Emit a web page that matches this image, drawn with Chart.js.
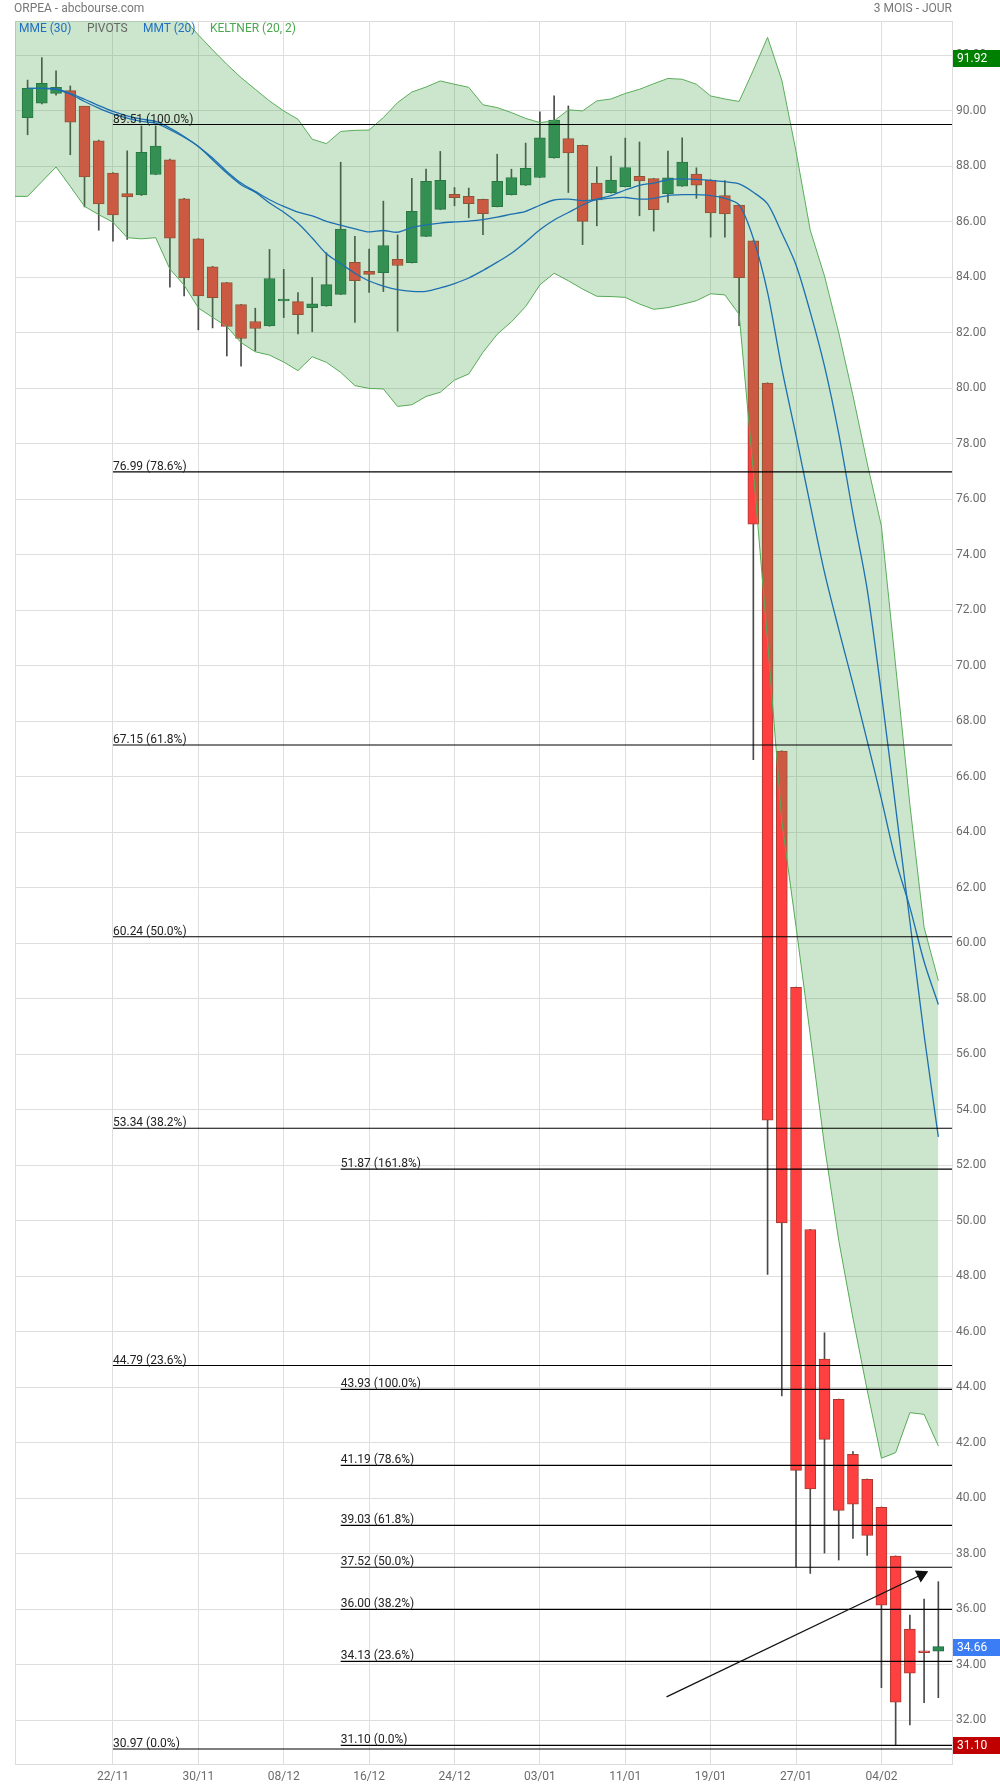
<!DOCTYPE html>
<html>
<head>
<meta charset="utf-8">
<title>ORPEA - abcbourse.com</title>
<script src="https://cdn.jsdelivr.net/npm/chart.js@4.4.1/dist/chart.umd.min.js"></script>
<style>
  body { margin: 0; background: #fff; }
  #wrap { position: relative; width: 1000px; height: 1787px; font-family: Roboto, sans-serif; font-size: 12px; }
  #wrap canvas { position: absolute; left: 0; top: 0; }
  .t { position: absolute; white-space: nowrap; line-height: 14px; }
</style>
</head>
<body>
<div id="wrap">
  <canvas id="myChart" width="1000" height="1787"></canvas>
  <div class="t" style="left:14px;top:1px;color:#777">ORPEA - abcbourse.com</div>
  <div class="t" style="right:48px;top:1px;color:#777">3 MOIS - JOUR</div>
  <div class="t" style="left:19px;top:21px;color:#2270c0">MME (30)</div>
  <div class="t" style="left:87px;top:21px;color:#666">PIVOTS</div>
  <div class="t" style="left:143px;top:21px;color:#2270c0">MMT (20)</div>
  <div class="t" style="left:210px;top:21px;color:#4aa84e">KELTNER (20, 2)</div>
</div>
<script>
/* global Chart */

// x = trading day index (0 = 12/11, 64 = 10/02)
const tickIdx = [6, 12, 18, 24, 30, 36, 42, 48, 54, 60];
const tickLabels = ['22/11', '30/11', '08/12', '16/12', '24/12', '03/01', '11/01', '19/01', '27/01', '04/02'];

const open = [89.76, 90.28, 90.63, 90.73, 90.17, 88.92, 87.76, 87.02, 86.97, 87.71,
  88.24, 86.83, 85.39, 84.38, 83.81, 83.02, 82.41, 82.25, 83.15, 83.13,
  82.91, 82.97, 83.39, 84.54, 84.22, 84.17, 84.65, 84.53, 85.48, 86.45,
  86.99, 86.92, 86.81, 86.55, 86.98, 87.32, 87.60, 88.31, 89.00, 88.76,
  87.40, 87.05, 87.27, 87.64, 87.56, 87.02, 87.29, 87.72, 87.51, 86.95,
  86.61, 85.32, 80.19, 66.93, 58.42, 49.69, 45.02, 43.57, 41.59, 40.69,
  39.68, 37.92, 35.29, 34.50, 34.50];
const high = [91.11, 91.92, 91.44, 90.90, 90.17, 88.95, 87.78, 88.56, 89.46, 89.46,
  88.26, 86.85, 85.40, 84.40, 83.82, 83.03, 82.89, 85.01, 84.29, 83.45,
  84.00, 84.89, 88.15, 85.48, 85.02, 86.75, 85.53, 87.57, 87.90, 88.54,
  87.24, 87.22, 86.82, 88.44, 87.90, 88.84, 89.97, 90.54, 90.18, 88.77,
  87.98, 88.37, 89.02, 88.88, 87.57, 88.55, 89.03, 87.95, 87.52, 87.49,
  86.62, 85.33, 80.20, 66.94, 58.43, 49.70, 45.97, 43.58, 41.69, 40.70,
  39.69, 37.93, 35.80, 36.37, 37.00];
const low = [89.14, 90.25, 90.57, 88.42, 86.54, 85.70, 85.31, 85.37, 86.95, 87.70,
  83.65, 83.33, 82.11, 82.18, 81.17, 80.80, 81.35, 82.24, 82.55, 81.96,
  82.04, 82.96, 83.38, 82.38, 83.46, 83.49, 82.06, 84.52, 85.47, 86.44,
  86.58, 86.15, 85.54, 86.54, 86.97, 87.31, 87.59, 88.30, 87.06, 85.18,
  85.86, 87.04, 87.26, 86.22, 85.67, 86.70, 87.28, 86.85, 85.45, 85.45,
  82.26, 66.62, 48.07, 43.69, 37.54, 37.30, 38.03, 37.78, 38.56, 37.95,
  33.18, 31.10, 31.84, 32.64, 32.82];
const close = [90.81, 90.99, 90.85, 89.59, 87.62, 86.65, 86.25, 86.90, 88.51, 88.73,
  85.41, 83.98, 83.33, 83.27, 82.23, 81.80, 82.16, 83.96, 83.16, 82.66,
  83.05, 83.74, 85.74, 83.88, 84.11, 85.15, 84.43, 86.38, 87.46, 87.50,
  86.87, 86.66, 86.30, 87.46, 87.60, 87.93, 89.03, 89.67, 88.49, 86.02,
  86.79, 87.51, 87.96, 87.48, 86.44, 87.59, 88.16, 87.32, 86.32, 86.29,
  83.99, 75.11, 53.63, 49.93, 41.01, 40.34, 42.13, 39.57, 39.79, 38.67,
  36.15, 32.66, 33.70, 34.44, 34.66];

// Keltner (20, 2) bands, first value is the day before 12/11
const keltnerUp = [94.6, 94.6, 94.5, 94.5, 94.4, 94.3, 94.2, 94.1, 94.0, 93.9,
  93.8, 93.7, 93.3, 92.74, 92.2, 91.68, 91.20, 90.78, 90.36, 90.0,
  89.70, 88.98, 88.82, 89.26, 89.30, 89.31, 89.76, 90.30, 90.68, 90.86,
  91.08, 90.96, 90.85, 90.22, 90.12, 89.94, 89.73, 89.58, 89.64, 90.04,
  90.0, 90.36, 90.43, 90.63, 90.78, 90.98, 91.17, 91.14, 90.96, 90.54,
  90.43, 90.34, 91.47, 92.65, 91.11, 88.54, 85.7, 84.05, 82.01, 79.74,
  77.31, 75.04, 70.0, 65.0, 60.58, 58.66];
const keltnerLow = [86.92, 86.92, 87.45, 87.98, 87.28, 86.56, 86.26, 85.99, 85.43, 85.39,
  85.43, 84.30, 83.72, 82.90, 82.56, 82.23, 81.65, 81.32, 81.20, 80.95,
  80.64, 81.14, 80.94, 80.58, 80.10, 80.0, 79.98, 79.35, 79.41, 79.71,
  79.86, 80.30, 80.52, 81.30, 81.95, 82.40, 82.95, 83.73, 84.15, 83.88,
  83.58, 83.32, 83.31, 83.28, 83.04, 82.85, 82.91, 83.03, 83.16, 83.41,
  83.37, 82.67, 77.0, 70.9, 64.4, 60.6, 56.7, 52.7, 49.3, 46.5,
  43.9, 41.45, 41.65, 43.09, 43.03, 41.89];

const mme30 = [90.81, 90.81, 90.79, 90.63, 90.42, 90.19, 89.98, 89.82, 89.70, 89.62,
  89.38, 89.08, 88.72, 88.30, 87.82, 87.40, 87.10, 86.80, 86.56, 86.35,
  86.22, 86.02, 85.88, 85.75, 85.64, 85.69, 85.63, 85.80, 85.89, 85.96,
  86.00, 86.03, 86.08, 86.17, 86.28, 86.38, 86.60, 86.79, 86.82, 86.77,
  86.80, 86.86, 86.88, 86.82, 86.85, 86.95, 86.98, 86.98, 86.95, 86.85,
  86.61, 85.40, 83.46, 80.72, 78.30, 75.80, 73.37, 71.32, 69.35, 67.30,
  65.20, 63.00, 61.30, 59.34, 57.80];
const mmt20 = [90.81, 90.81, 90.78, 90.60, 90.34, 90.10, 89.89, 89.74, 89.62, 89.56,
  89.32, 89.05, 88.72, 88.24, 87.76, 87.34, 87.07, 86.68, 86.35, 85.95,
  85.42, 84.85, 84.50, 84.15, 83.87, 83.69, 83.56, 83.50, 83.50, 83.62,
  83.78, 83.98, 84.25, 84.55, 84.87, 85.28, 85.72, 86.07, 86.34, 86.61,
  86.82, 86.95, 87.15, 87.32, 87.40, 87.52, 87.55, 87.53, 87.50, 87.45,
  87.37, 87.07, 86.65, 85.60, 84.45, 82.75, 80.80, 78.37, 75.49, 72.76,
  69.00, 64.90, 60.80, 56.70, 53.03];

// retracement levels
const fibA = [89.51, 76.99, 67.15, 60.24, 53.34, 44.79, 30.97];
const fibAPct = ['100.0%', '78.6%', '61.8%', '50.0%', '38.2%', '23.6%', '0.0%'];
const fibAStart = 6;
const fibB = [51.87, 43.93, 41.19, 39.03, 37.52, 36.00, 34.13, 31.10];
const fibBPct = ['161.8%', '100.0%', '78.6%', '61.8%', '50.0%', '38.2%', '23.6%', '0.0%'];
const fibBStart = 22;

// trend arrow drawn on the chart
const arrowX = [44.9, 62.8];
const arrowY = [32.85, 37.25];

// price boxes on the right axis
const markValues = [91.92, 34.66, 31.10];
const markColors = ['#008000', '#3b7df5', '#c00000'];

const xMin = -0.885;
const xMax = 64.96;

const RED = '#ff4040';
const GREEN = '#2e8b57';

function pts(arr, first) {
  return arr.map((v, i) => ({ x: i + first, y: v }));
}

let datasets = [];

datasets.push({
  type: 'bar',
  data: open.map((o, i) => ({ x: i, y: [low[i], high[i]] })),
  backgroundColor: '#4a4a4a',
  barThickness: 1,
  grouped: false,
  order: 5
});
datasets.push({
  type: 'bar',
  data: open.map((o, i) => ({ x: i, y: [o, close[i]] })),
  backgroundColor: ctx => close[ctx.dataIndex] >= open[ctx.dataIndex] ? GREEN : RED,
  borderColor: ctx => close[ctx.dataIndex] >= open[ctx.dataIndex] ? '#1f6a40' : '#a83a30',
  borderWidth: 1,
  borderSkipped: false,
  minBarLength: 2,
  barThickness: 11,
  grouped: false,
  order: 4
});
datasets.push({
  type: 'line',
  data: pts(keltnerUp, -1),
  borderColor: '#5aad5a',
  borderWidth: 1,
  pointRadius: 0,
  fill: '+1',
  backgroundColor: 'rgba(67,160,71,0.27)',
  order: 3
});
datasets.push({
  type: 'line',
  data: pts(keltnerLow, -1),
  borderColor: '#5aad5a',
  borderWidth: 1,
  pointRadius: 0,
  fill: false,
  order: 3
});
[mme30, mmt20].forEach(arr => {
  datasets.push({
    type: 'line',
    data: pts(arr, 0),
    borderColor: '#1c6fb0',
    borderWidth: 1.3,
    pointRadius: 0,
    tension: 0.3,
    fill: false,
    order: 2
  });
});
fibA.forEach(v => {
  datasets.push({
    type: 'line',
    data: [{ x: fibAStart, y: v }, { x: xMax, y: v }],
    borderColor: '#000',
    borderWidth: 1.2,
    pointRadius: 0,
    fill: false,
    order: 1
  });
});
fibB.forEach(v => {
  datasets.push({
    type: 'line',
    data: [{ x: fibBStart, y: v }, { x: xMax, y: v }],
    borderColor: '#000',
    borderWidth: 1.2,
    pointRadius: 0,
    fill: false,
    order: 1
  });
});
datasets.push({
  type: 'line',
  data: arrowX.map((x, i) => ({ x: x, y: arrowY[i] })),
  borderColor: '#111',
  backgroundColor: '#111',
  borderWidth: 1.2,
  pointRadius: [0, 6.5],
  pointStyle: 'triangle',
  rotation: 64,
  fill: false,
  order: 0
});

const extras = {
  id: 'extras',
  beforeDatasetsDraw(chart) {
    const a = chart.chartArea;
    const c = chart.ctx;
    c.save();
    c.strokeStyle = '#dcdcdc';
    c.lineWidth = 1;
    c.beginPath();
    c.moveTo(a.left + 0.5, a.bottom);
    c.lineTo(a.left + 0.5, a.top + 0.5);
    c.lineTo(a.right, a.top + 0.5);
    c.stroke();
    c.restore();
  },
  afterDatasetsDraw(chart) {
    const c = chart.ctx;
    const xs = chart.scales.x;
    const ys = chart.scales.y;
    c.save();
    c.font = '12px Roboto';
    c.fillStyle = '#222';
    c.textBaseline = 'alphabetic';
    fibA.forEach((v, i) => {
      c.fillText(v.toFixed(2) + ' (' + fibAPct[i] + ')', xs.getPixelForValue(fibAStart), ys.getPixelForValue(v) - 2);
    });
    fibB.forEach((v, i) => {
      c.fillText(v.toFixed(2) + ' (' + fibBPct[i] + ')', xs.getPixelForValue(fibBStart), ys.getPixelForValue(v) - 2);
    });
    c.restore();
  },
  afterDraw(chart) {
    const c = chart.ctx;
    const a = chart.chartArea;
    const ys = chart.scales.y;
    c.save();
    c.font = '12px Roboto';
    c.textBaseline = 'middle';
    markValues.forEach((v, i) => {
      const y = Math.round(ys.getPixelForValue(v));
      c.fillStyle = markColors[i];
      c.fillRect(a.right + 1, y - 8, 1000 - a.right, 17);
      c.fillStyle = '#fff';
      c.fillText(v.toFixed(2), a.right + 5, y + 1);
    });
    c.restore();
  }
};

var ctx = document.getElementById('myChart').getContext('2d');
var myChart = new Chart(ctx, {
  type: 'bar',
  data: { datasets: datasets },
  plugins: [extras],
  options: {
    responsive: false,
    animation: false,
    layout: { padding: { top: 21, left: 15, right: 0, bottom: 0 } },
    plugins: {
      legend: { display: false },
      tooltip: { enabled: false }
    },
    scales: {
      x: {
        type: 'linear',
        min: xMin,
        max: xMax,
        offset: false,
        afterBuildTicks: scale => {
          scale.ticks = tickIdx.map(v => ({ value: v }));
        },
        afterFit: scale => { scale.height = 23; },
        ticks: {
          autoSkip: false,
          maxRotation: 0,
          padding: 6,
          color: '#6b6b6b',
          font: { family: 'Roboto', size: 12 },
          callback: value => tickLabels[tickIdx.indexOf(value)]
        },
        grid: { color: '#dedede', drawTicks: false, offset: false },
        border: { color: '#dcdcdc' }
      },
      y: {
        type: 'linear',
        position: 'right',
        min: 30.43,
        max: 93.24,
        afterFit: scale => { scale.width = 48; },
        ticks: {
          stepSize: 2,
          includeBounds: false,
          padding: 4,
          color: '#6b6b6b',
          font: { family: 'Roboto', size: 12 },
          callback: value => value.toFixed(2)
        },
        grid: { color: '#dedede', drawTicks: false },
        border: { color: '#dcdcdc' }
      }
    }
  }
});
</script>
</body>
</html>
